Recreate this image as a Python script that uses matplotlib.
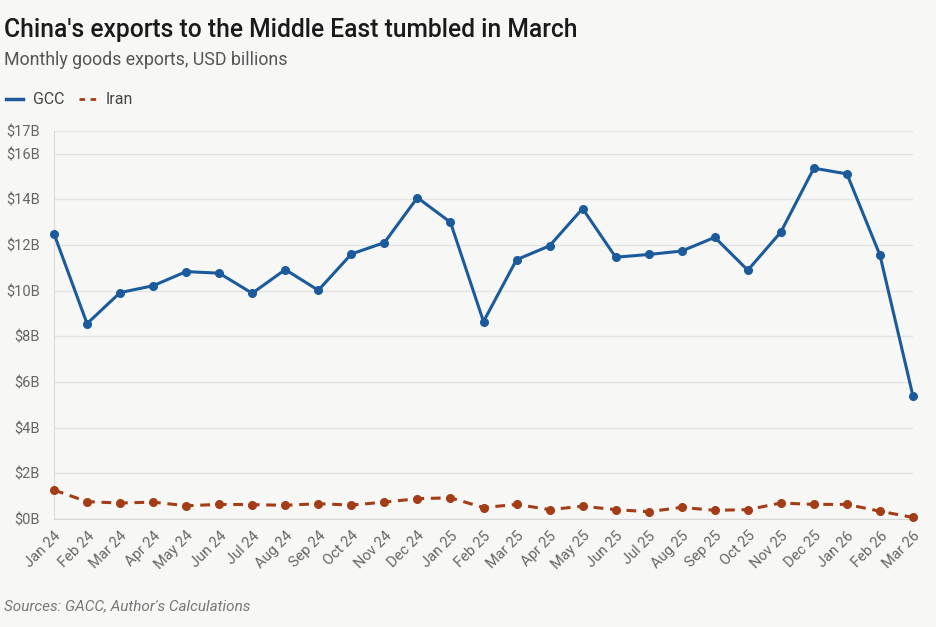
import matplotlib.pyplot as plt
from matplotlib.lines import Line2D

# Monthly goods exports, USD billions
months = ['Jan 24', 'Feb 24', 'Mar 24', 'Apr 24', 'May 24', 'Jun 24', 'Jul 24',
          'Aug 24', 'Sep 24', 'Oct 24', 'Nov 24', 'Dec 24', 'Jan 25', 'Feb 25',
          'Mar 25', 'Apr 25', 'May 25', 'Jun 25', 'Jul 25', 'Aug 25', 'Sep 25',
          'Oct 25', 'Nov 25', 'Dec 25', 'Jan 26', 'Feb 26', 'Mar 26']
gcc = [12.5, 8.56, 9.92, 10.22, 10.84, 10.77, 9.89, 10.93, 10.02, 11.61, 12.11,
       14.08, 13.0, 8.65, 11.36, 11.97, 13.6, 11.47, 11.59, 11.74, 12.34, 10.9,
       12.57, 15.37, 15.12, 11.56, 5.38]
iran = [1.27, 0.76, 0.70, 0.74, 0.58, 0.64, 0.63, 0.60, 0.67, 0.61, 0.74, 0.89,
        0.93, 0.50, 0.64, 0.41, 0.56, 0.41, 0.32, 0.51, 0.38, 0.41, 0.70, 0.64,
        0.64, 0.34, 0.07]
yticks = [0, 2, 4, 6, 8, 10, 12, 14, 16, 17]

bg = '#f7f7f5'
blue = '#1c5b9b'
rust = '#a43d17'
plt.rcParams['font.family'] = ['Roboto', 'DejaVu Sans']

fig = plt.figure(figsize=(9.36, 6.27), dpi=100, facecolor=bg)
ax = fig.add_axes([54 / 936, 1 - 519 / 627, (913 - 54) / 936, (519 - 131) / 627])
ax.set_facecolor(bg)

x = list(range(len(months)))
ax.plot(x, gcc, color=blue, lw=2.2, marker='o', ms=5.5, clip_on=False, zorder=3)
ax.plot(x, iran, color=rust, lw=2.2, ls=(0, (3.2, 2.2)), marker='o', ms=5.5,
        clip_on=False, zorder=3)

ax.set_xlim(0, len(months) - 1)
ax.set_ylim(0, 17)
ax.set_yticks(yticks)
ax.set_yticklabels(['$%dB' % v for v in yticks])
ax.set_xticks(x)
ax.set_xticklabels(months, rotation=45, ha='right', rotation_mode='anchor')
ax.grid(axis='y', color='#e3e3e3', lw=1)
ax.set_axisbelow(True)
for s in ['top', 'right']:
    ax.spines[s].set_visible(False)
ax.spines['left'].set_color('#dddddd')
ax.spines['bottom'].set_color('#d6d6d6')
ax.tick_params(axis='both', length=0, labelsize=10.5, labelcolor='#666666')
ax.tick_params(axis='y', pad=10)
ax.tick_params(axis='x', pad=7)

fig.text(4 / 936, 1 - 30 / 627, "China's exports to the Middle East tumbled in March",
         fontsize=17.7, fontweight='medium', color='#1a1a1a', va='center', ha='left')
fig.text(4 / 936, 1 - 60 / 627, 'Monthly goods exports, USD billions',
         fontsize=12.8, color='#555555', va='center', ha='left')

handles = [Line2D([], [], color=blue, lw=2.5),
           Line2D([], [], color=rust, lw=2, ls=(0, (2, 2)))]
fig.legend(handles, ['GCC', 'Iran'], loc='center left',
           bbox_to_anchor=(-0.004, 1 - 100 / 627), ncol=2, frameon=False,
           fontsize=11.5, labelcolor='#444444', handlelength=1.1,
           handletextpad=0.6, columnspacing=0.9, borderaxespad=0.2)

fig.text(4 / 936, 1 - 606 / 627, "Sources: GACC, Author's Calculations",
         fontsize=11, color='#777777', style='italic', va='center', ha='left')

fig.savefig('out.png', dpi=100, facecolor=bg)
